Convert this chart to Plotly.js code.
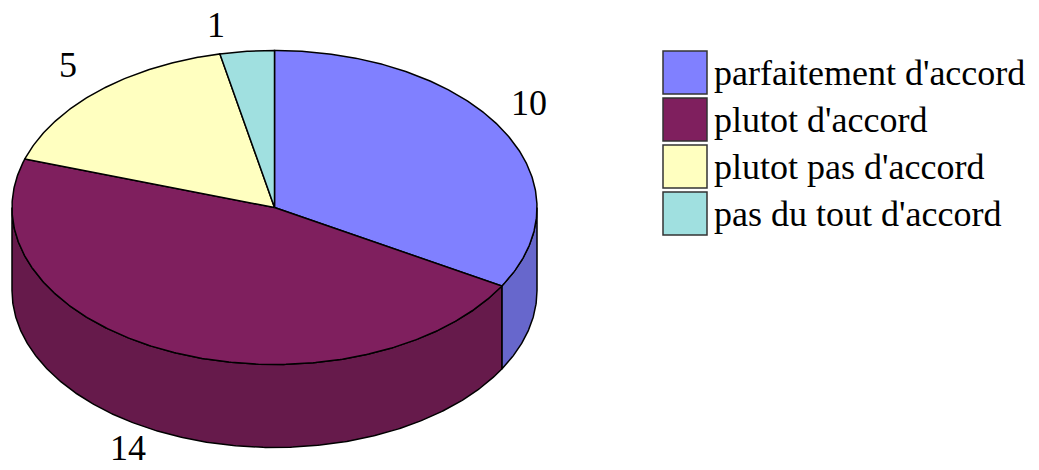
<!DOCTYPE html>
<html>
<head>
<meta charset="utf-8">
<script src="https://cdn.plot.ly/plotly-3.0.1.min.js"></script>
<style>html,body{margin:0;padding:0;background:#fff;}#chart{width:1039px;height:470px;}</style>
</head>
<body>
<div id="chart"></div>
<script>
// ---- data ----
const categories = ["parfaitement d'accord", "plutot d'accord", "plutot pas d'accord", "pas du tout d'accord"];
const values = [10, 14, 5, 1];
const topColors = ["#8080ff", "#7f1f5e", "#ffffc0", "#a0e0e0"];
const sideColors = ["#6767cc", "#661a4b", "#ccccaa", "#80b3b3"];

// ---- geometry of the projected 3D pie (style) ----
const W = 1039, H = 470;
const cx = 274.5, cy = 207.5, rx = 262.5, ry = 157, depth = 83;
const FONT = "Liberation Serif, Times New Roman, serif";

function pt(deg, dy) {
  const t = (90 - deg) * Math.PI / 180;
  return [cx + rx * Math.cos(t), cy - ry * Math.sin(t) + (dy || 0)];
}
function arc(d1, d2, dy) {
  const xs = [], ys = [];
  const n = Math.max(2, Math.ceil(Math.abs(d2 - d1) / 0.5));
  for (let i = 0; i <= n; i++) {
    const p = pt(d1 + (d2 - d1) * i / n, dy);
    xs.push(p[0]); ys.push(p[1]);
  }
  return [xs, ys];
}

const total = values.reduce((a, b) => a + b, 0);
const starts = [], ends = [];
let acc = 0;
values.forEach(v => { starts.push(acc / total * 360); acc += v; ends.push(acc / total * 360); });

const traces = [];
// side walls (front half: clockwise degrees 90..270)
values.forEach((v, i) => {
  const a = Math.max(starts[i], 90), b = Math.min(ends[i], 270);
  if (b <= a) return;
  const top = arc(a, b, 0), bot = arc(b, a, depth);
  traces.push({
    type: "scatter", mode: "lines", fill: "toself",
    x: top[0].concat(bot[0]).concat([top[0][0]]),
    y: top[1].concat(bot[1]).concat([top[1][0]]),
    fillcolor: sideColors[i], line: {color: "#000", width: 1.5},
    hoverinfo: "skip", showlegend: false
  });
});
// top faces
values.forEach((v, i) => {
  const a = arc(starts[i], ends[i], 0);
  traces.push({
    type: "scatter", mode: "lines", fill: "toself",
    x: [cx].concat(a[0]).concat([cx]),
    y: [cy].concat(a[1]).concat([cy]),
    fillcolor: topColors[i], line: {color: "#000", width: 1.5},
    hoverinfo: "skip", showlegend: false, name: categories[i]
  });
});

// value labels
const annotations = [];
const gapRight = 7, gapLeft = 20;
values.forEach((v, i) => {
  const mid = (starts[i] + ends[i]) / 2;
  const t = (90 - mid) * Math.PI / 180;
  const c = Math.cos(t), s = Math.sin(t);
  const p = pt(mid, s < 0 ? depth : 0);
  annotations.push({
    xref: "x", yref: "y", x: p[0] + (c >= 0 ? gapRight : -gapLeft), y: p[1] + (s >= 0 ? -26 : 14),
    xanchor: c >= 0 ? "left" : "right", yanchor: "middle",
    text: String(v), showarrow: false,
    font: {family: FONT, size: 36, color: "#000"}
  });
});

// legend
const shapes = [];
const lgX = 663, lgY = 51, boxW = 44, boxH = 43, pitch = 47;
categories.forEach((name, i) => {
  const y0 = lgY + i * pitch;
  shapes.push({
    type: "rect", xref: "x", yref: "y",
    x0: lgX, x1: lgX + boxW, y0: y0, y1: y0 + boxH,
    fillcolor: topColors[i], line: {color: "#333", width: 1.5}, layer: "above"
  });
  annotations.push({
    xref: "x", yref: "y", x: lgX + boxW + 5, y: y0 + boxH / 2,
    xanchor: "left", yanchor: "middle", text: name, showarrow: false,
    font: {family: FONT, size: 36, color: "#000"}
  });
});

const layout = {
  width: W, height: H,
  margin: {l: 0, r: 0, t: 0, b: 0, pad: 0},
  paper_bgcolor: "#fff", plot_bgcolor: "#fff",
  xaxis: {range: [0, W], visible: false, fixedrange: true},
  yaxis: {range: [H, 0], visible: false, fixedrange: true},
  showlegend: false,
  shapes: shapes, annotations: annotations
};
Plotly.newPlot("chart", traces, layout, {staticPlot: true, displayModeBar: false});
</script>
</body>
</html>
